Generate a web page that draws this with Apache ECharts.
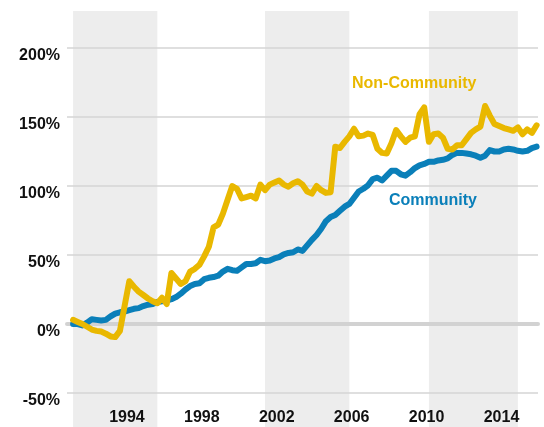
<!DOCTYPE html>
<html>
<head>
<meta charset="utf-8">
<script src="https://cdn.jsdelivr.net/npm/echarts@6/dist/echarts.min.js"></script>
<style>
  html, body { margin: 0; padding: 0; background: #fff; }
  #chart { width: 544px; height: 427px; }
</style>
</head>
<body>
<div id="chart"></div>
<script>
// quarterly series, first point is 1991 Q1, values in % change
const startYear = 1991
const community = [
  0, 0, -1, 1, 3.5, 3, 2.5, 3, 5.5, 7.5,
  8.5, 9, 10, 11, 11.5, 13, 14, 14.5, 16, 16.5,
  17, 18, 19.5, 22, 25, 27.5, 29, 29.5, 32.5, 33.5,
  34, 35, 38, 40, 39, 38.5, 41, 43.5, 43.5, 44,
  46.5, 45.5, 46, 47.5, 48.5, 50.5, 51.5, 52, 54, 53,
  57, 61, 64.5, 69, 74.5, 77.5, 79, 82, 85, 87,
  91.5, 96, 98, 100.5, 105, 106, 104, 107.5, 111, 111,
  108.5, 107.5, 110, 113, 115, 116, 117.5, 117.5, 118.5, 119,
  120, 122.5, 124, 124, 123.5, 123, 122, 120.5, 122, 126,
  125, 125, 126.5, 127, 126.5, 125.5, 125, 125.5, 127.5, 128.5
]
const nonCommunity = [
  3, 1.5, 0, -2, -4, -5, -5.5, -7, -9, -9.5,
  -5, 13, 31, 27, 23.5, 21, 18.5, 16.5, 15, 19,
  14.5, 37, 33, 29, 31, 38, 40, 43, 49, 56,
  70, 72, 80, 90, 100, 98, 91, 92, 93, 91,
  101, 97, 101, 102.5, 104, 101, 99.5, 102, 103.5, 101,
  96, 94.5, 100, 97, 95, 95.5, 128.5, 127.5, 132, 136,
  141.5, 136, 136.5, 138, 137, 127, 124, 123.5, 131, 140.5,
  136, 132, 135, 136, 152, 157, 132, 137.5, 138, 135,
  127, 126.5, 129.5, 129.5, 134, 138.5, 141, 143, 158, 151,
  145, 143.5, 142, 141, 140, 142.5, 137.5, 141, 138.5, 144
]
const yearLabels = [1994, 1998, 2002, 2006, 2010, 2014]
const shadedBands = [[1991.125, 1995.625], [2001.375, 2005.875], [2010.125, 2014.875]]

const GOLD = '#e9b800'
const BLUE = '#0a7fb9'
const FONT = '"Liberation Sans", Arial, sans-serif'

const toPoints = (values) => values.map((v, i) => [startYear + (i + 0.5) / 4, v])

const xBase = {
  type: 'value',
  min: 1990.8,
  max: 2015.95,
  splitLine: { show: false },
  axisTick: { show: false }
}

const option = {
  animation: false,
  backgroundColor: '#fff',
  grid: [
    { left: 67, right: 6, top: 48, bottom: 34 },
    { left: 67, right: 6, top: 11, bottom: 0 }
  ],
  xAxis: [
    {
      ...xBase,
      gridIndex: 0,
      axisLine: { show: false, onZero: false },
      axisLabel: {
        customValues: yearLabels,
        formatter: (v) => String(v),
        margin: 17,
        color: '#111',
        fontFamily: FONT,
        fontWeight: 'bold',
        fontSize: 16
      }
    },
    { ...xBase, gridIndex: 1, show: false },
    {
      // thick zero line
      ...xBase,
      gridIndex: 0,
      axisLine: { show: true, onZero: true, lineStyle: { color: '#d2d2d2', width: 4 } },
      axisLabel: { show: false }
    }
  ],
  yAxis: [
    {
      type: 'value',
      gridIndex: 0,
      min: -50,
      max: 200,
      interval: 50,
      axisLine: { show: false },
      axisTick: { show: false },
      axisLabel: {
        formatter: '{value}%',
        margin: 7,
        verticalAlign: 'top',
        lineHeight: 15,
        color: '#111',
        fontFamily: FONT,
        fontWeight: 'bold',
        fontSize: 16
      },
      splitLine: { lineStyle: { color: '#d4d4d4', width: 1.5 } }
    },
    { type: 'value', gridIndex: 1, min: 0, max: 1, show: false }
  ],
  series: [
    {
      type: 'line',
      xAxisIndex: 1,
      yAxisIndex: 1,
      z: -1,
      data: [],
      silent: true,
      markArea: {
        z: -1,
        silent: true,
        itemStyle: { color: '#ededed' },
        data: shadedBands.map(b => [{ xAxis: b[0] }, { xAxis: b[1] }])
      }
    },
    {
      name: 'Community',
      type: 'line',
      xAxisIndex: 0,
      yAxisIndex: 0,
      data: toPoints(community),
      showSymbol: false,
      lineStyle: { color: BLUE, width: 6, cap: 'round', join: 'round' }
    },
    {
      name: 'Non-Community',
      type: 'line',
      xAxisIndex: 0,
      yAxisIndex: 0,
      data: toPoints(nonCommunity),
      showSymbol: false,
      lineStyle: { color: GOLD, width: 6, cap: 'round', join: 'round' }
    }
  ],
  graphic: [
    {
      type: 'text', left: 352, top: 76, z: 10,
      style: { text: 'Non-Community', fill: GOLD, font: 'bold 16px ' + FONT }
    },
    {
      type: 'text', left: 389, top: 193, z: 10,
      style: { text: 'Community', fill: BLUE, font: 'bold 16px ' + FONT }
    }
  ]
}

const chart = echarts.init(document.getElementById('chart'), null, { renderer: 'canvas' })
chart.setOption(option)
</script>
</body>
</html>
